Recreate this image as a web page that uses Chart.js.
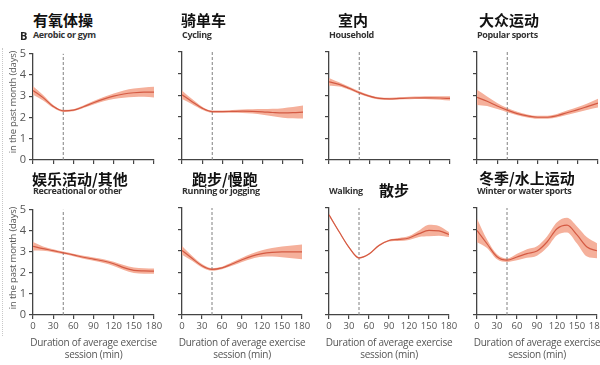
<!DOCTYPE html>
<html>
<head>
<meta charset="utf-8">
<script src="https://cdn.jsdelivr.net/npm/chart.js@4/dist/chart.umd.min.js"></script>
<style>
  html, body { margin:0; padding:0; background:#fff; width:600px; height:365px; overflow:hidden; }
  .abs { position:absolute; white-space:nowrap; }
  .cn { font-family:"Noto Sans CJK SC", sans-serif; font-weight:700; font-size:15px; line-height:15px; color:#111; }
  .en { font-family:"Open Sans", sans-serif; font-weight:700; font-size:9px; line-height:10px; letter-spacing:-0.35px; color:#333; }
  .ax { font-family:"Open Sans", sans-serif; font-size:10px; line-height:11px; letter-spacing:-0.25px; color:#555; text-align:center; }
  .yl { font-family:"Open Sans", sans-serif; font-size:9.5px; line-height:11px; letter-spacing:-0.2px; color:#555; transform-origin:0 0; transform:rotate(-90deg); }
  canvas { position:absolute; }
</style>
</head>
<body>
<script>
// ---- data ----
const minutes = [0, 15, 30, 45, 60, 75, 90, 105, 120, 135, 150, 165, 180];
const xTicks = [0, 30, 60, 90, 120, 150, 180];
const yTicks = [0, 1, 2, 3, 4, 5];
const referenceMinutes = 45;

const aerobicMid = [3.27, 2.93, 2.52, 2.31, 2.34, 2.50, 2.69, 2.86, 3.00, 3.10, 3.16, 3.19, 3.19];
const aerobicLo  = [3.07, 2.80, 2.45, 2.26, 2.29, 2.44, 2.61, 2.76, 2.87, 2.93, 2.96, 2.97, 2.94];
const aerobicHi  = [3.47, 3.06, 2.59, 2.36, 2.39, 2.56, 2.77, 2.96, 3.13, 3.27, 3.36, 3.41, 3.44];

const cyclingMid = [3.02, 2.70, 2.40, 2.24, 2.24, 2.25, 2.26, 2.25, 2.23, 2.20, 2.18, 2.19, 2.22];
const cyclingLo  = [2.82, 2.58, 2.33, 2.19, 2.19, 2.19, 2.18, 2.15, 2.10, 2.03, 1.96, 1.93, 1.92];
const cyclingHi  = [3.22, 2.82, 2.47, 2.29, 2.29, 2.31, 2.34, 2.35, 2.36, 2.37, 2.40, 2.45, 2.52];

const householdMid = [3.62, 3.50, 3.32, 3.12, 2.96, 2.85, 2.83, 2.85, 2.87, 2.88, 2.88, 2.87, 2.85];
const householdLo  = [3.44, 3.40, 3.25, 3.06, 2.91, 2.80, 2.78, 2.80, 2.81, 2.82, 2.81, 2.79, 2.75];
const householdHi  = [3.80, 3.60, 3.39, 3.18, 3.01, 2.90, 2.88, 2.90, 2.93, 2.94, 2.95, 2.95, 2.95];

const popularMid = [2.90, 2.72, 2.50, 2.31, 2.15, 2.04, 1.98, 1.98, 2.06, 2.20, 2.33, 2.48, 2.63];
const popularLo  = [2.55, 2.50, 2.36, 2.21, 2.07, 1.97, 1.91, 1.91, 1.98, 2.10, 2.21, 2.33, 2.43];
const popularHi  = [3.25, 2.94, 2.64, 2.41, 2.23, 2.11, 2.05, 2.05, 2.14, 2.30, 2.45, 2.63, 2.83];

const recreationalMid = [3.26, 3.15, 3.05, 2.95, 2.85, 2.74, 2.65, 2.56, 2.43, 2.25, 2.12, 2.09, 2.08];
const recreationalLo  = [3.06, 3.05, 2.98, 2.89, 2.79, 2.67, 2.57, 2.47, 2.33, 2.13, 1.99, 1.96, 1.96];
const recreationalHi  = [3.46, 3.25, 3.12, 3.01, 2.91, 2.81, 2.73, 2.65, 2.53, 2.37, 2.25, 2.22, 2.20];

const runningMid = [3.02, 2.65, 2.30, 2.13, 2.20, 2.38, 2.58, 2.75, 2.87, 2.93, 2.95, 2.95, 2.95];
const runningLo  = [2.82, 2.53, 2.22, 2.07, 2.14, 2.30, 2.48, 2.63, 2.72, 2.73, 2.70, 2.65, 2.60];
const runningHi  = [3.22, 2.77, 2.38, 2.19, 2.26, 2.46, 2.68, 2.87, 3.02, 3.13, 3.20, 3.25, 3.30];

const walkingMid = [4.68, 3.90, 3.16, 2.67, 2.85, 3.25, 3.48, 3.53, 3.60, 3.80, 3.95, 3.93, 3.76];
const walkingLo  = [4.63, 3.86, 3.12, 2.63, 2.81, 3.21, 3.44, 3.46, 3.51, 3.65, 3.68, 3.70, 3.64];
const walkingHi  = [4.73, 3.94, 3.20, 2.71, 2.89, 3.29, 3.52, 3.60, 3.69, 3.95, 4.22, 4.16, 3.88];

const winterMid = [3.95, 3.33, 2.72, 2.56, 2.71, 2.87, 2.99, 3.41, 4.03, 4.20, 3.74, 3.18, 3.00];
const winterLo  = [3.40, 3.13, 2.60, 2.48, 2.56, 2.67, 2.77, 3.15, 3.73, 3.86, 3.34, 2.73, 2.65];
const winterHi  = [4.50, 3.53, 2.84, 2.64, 2.86, 3.07, 3.21, 3.67, 4.33, 4.54, 4.14, 3.63, 3.35];

const titlesCn = ["有氧体操", "骑单车", "室内", "大众运动", "娱乐活动/其他", "跑步/慢跑", "散步", "冬季/水上运动"];
const titlesEn = ["Aerobic or gym", "Cycling", "Household", "Popular sports", "Recreational or other", "Running or jogging", "Walking", "Winter or water sports"];
const yAxisLabel = "in the past month (days)";
const xAxisLabel = ["Duration of average exercise", "session (min)"];

// ---- layout ----
const panels = [
  { L: 33,  R: 154, T: 52,  B: 160, mid: aerobicMid, lo: aerobicLo, hi: aerobicHi, yLab: true,  xLab: false },
  { L: 182, R: 303, T: 52,  B: 160, mid: cyclingMid, lo: cyclingLo, hi: cyclingHi, yLab: false, xLab: false },
  { L: 329, R: 450, T: 52,  B: 160, mid: householdMid, lo: householdLo, hi: householdHi, yLab: false, xLab: false },
  { L: 477, R: 598, T: 52,  B: 160, mid: popularMid, lo: popularLo, hi: popularHi, yLab: false, xLab: false },
  { L: 33,  R: 154, T: 208, B: 315, mid: recreationalMid, lo: recreationalLo, hi: recreationalHi, yLab: true,  xLab: true },
  { L: 182, R: 302, T: 208, B: 315, mid: runningMid, lo: runningLo, hi: runningHi, yLab: false, xLab: true },
  { L: 329, R: 449, T: 208, B: 315, mid: walkingMid, lo: walkingLo, hi: walkingHi, yLab: false, xLab: true },
  { L: 477, R: 597, T: 208, B: 315, mid: winterMid, lo: winterLo, hi: winterHi, yLab: false, xLab: true }
];
const titlePos = [
  { cx: 33,  cy: 12,  ex: 33,  ey: 30 },
  { cx: 181, cy: 12,  ex: 182, ey: 30 },
  { cx: 338, cy: 12,  ex: 329, ey: 30 },
  { cx: 479, cy: 12,  ex: 477, ey: 30 },
  { cx: 32,  cy: 171, ex: 33,  ey: 186 },
  { cx: 192, cy: 171, ex: 182, ey: 186 },
  { cx: 379, cy: 182, ex: 329, ey: 186 },
  { cx: 479, cy: 170, ex: 477, ey: 186 }
];

const LINE = '#d45a43';
const BAND = '#f5b09b';
const AXIS = '#444';
const YW = 30, XH = 24, PT = 8, PR = 14;

function addText(cls, txt, x, y, extra) {
  const d = document.createElement('div');
  d.className = 'abs ' + cls;
  d.textContent = txt;
  d.style.left = x + 'px';
  d.style.top = y + 'px';
  if (extra) Object.assign(d.style, extra);
  document.body.appendChild(d);
  return d;
}

// faint dotted line at the far left
const dl = document.createElement('div');
Object.assign(dl.style, { position:'absolute', left:'2px', top:'48px', height:'288px', borderLeft:'1px dotted #c8c8c8' });
document.body.appendChild(dl);

panels.forEach((p, i) => {
  const cv = document.createElement('canvas');
  const w = p.R - p.L + YW + PR, h = p.B - p.T + PT + XH;
  cv.width = w; cv.height = h;
  cv.style.left = (p.L - YW) + 'px';
  cv.style.top = (p.T - PT) + 'px';
  cv.style.width = w + 'px'; cv.style.height = h + 'px';
  document.body.appendChild(cv);

  const pts = arr => minutes.map((m, k) => ({ x: m, y: arr[k] }));
  new Chart(cv, {
    type: 'line',
    data: {
      datasets: [
        { data: pts(p.hi), order: 3, borderWidth: 0, pointRadius: 0, fill: '+1', backgroundColor: BAND, cubicInterpolationMode: 'monotone' },
        { data: pts(p.lo), order: 2, borderWidth: 0, pointRadius: 0, fill: false, cubicInterpolationMode: 'monotone' },
        { data: pts(p.mid), order: 0, borderColor: LINE, borderWidth: 1.2, pointRadius: 0, fill: false, cubicInterpolationMode: 'monotone' },
        { data: [{ x: referenceMinutes, y: 0 }, { x: referenceMinutes, y: 5 }], order: 1, borderColor: '#808080', borderWidth: 1, borderDash: [3, 2], pointRadius: 0, fill: false }
      ]
    },
    options: {
      responsive: false,
      animation: false,
      devicePixelRatio: 1,
      layout: { padding: { top: PT, right: PR, left: 0, bottom: 0 } },
      plugins: { legend: { display: false }, tooltip: { enabled: false } },
      scales: {
        x: {
          type: 'linear', min: 0, max: 180,
          afterBuildTicks: s => { s.ticks = xTicks.map(v => ({ value: v })); },
          afterFit: s => { s.height = XH; },
          border: { display: true, color: AXIS, width: 1.3 },
          grid: { display: true, drawOnChartArea: false, drawTicks: true, tickLength: 4, color: AXIS, lineWidth: 1.2 },
          ticks: { display: p.xLab, padding: 2, color: '#555', font: { family: '"Open Sans", sans-serif', size: 9.5 }, maxRotation: 0, autoSkip: false }
        },
        y: {
          type: 'linear', min: 0, max: 5,
          afterBuildTicks: s => { s.ticks = yTicks.map(v => ({ value: v })); },
          afterFit: s => { s.width = YW; },
          border: { display: true, color: AXIS, width: 1.3 },
          grid: { display: true, drawOnChartArea: false, drawTicks: true, tickLength: 4, color: AXIS, lineWidth: 1.2 },
          ticks: { display: p.yLab, padding: 3, color: '#555', font: { family: '"Open Sans", sans-serif', size: 11 } }
        }
      }
    }
  });

  const tp = titlePos[i];
  addText('cn', titlesCn[i], tp.cx, tp.cy);
  addText('en', titlesEn[i], tp.ex, tp.ey);

  if (p.xLab) {
    const cx = (p.L + p.R) / 2;
    addText('ax', xAxisLabel[0], cx - 80, 337, { width: '160px' });
    addText('ax', xAxisLabel[1], cx - 80, 349, { width: '160px' });
  }
  if (p.yLab) {
    const yc = (p.T + p.B) / 2 - 4;
    addText('yl', yAxisLabel, 7, yc + 55, { width: '110px', textAlign: 'center' });
  }
});
addText('en', 'B', 20, 29.5, { fontSize: '11px', lineHeight: '11px', color: '#222', letterSpacing: '0' });
</script>
</body>
</html>
